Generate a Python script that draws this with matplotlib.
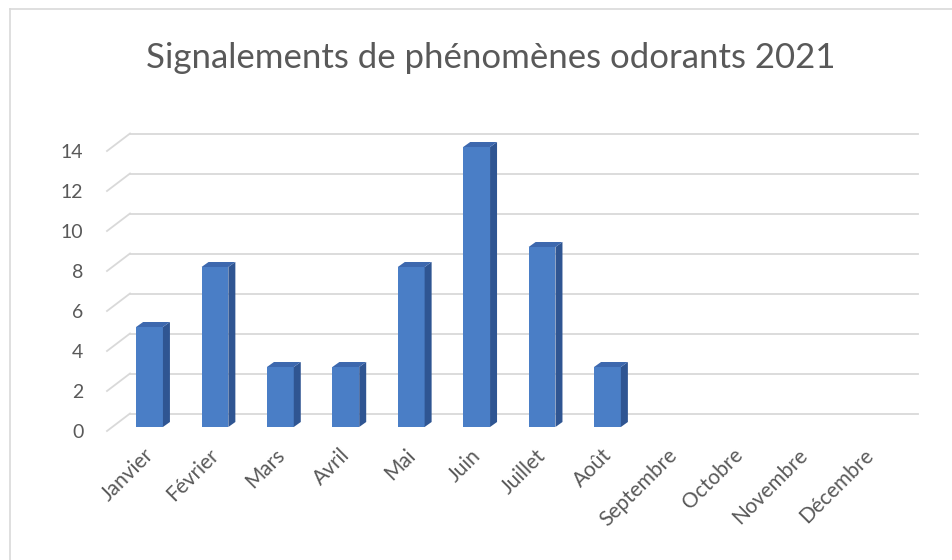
import numpy as np
import matplotlib.pyplot as plt
import matplotlib.transforms as mtransforms
from matplotlib.patches import Polygon
from matplotlib.lines import Line2D

plt.rcParams['font.family'] = ['Lato', 'DejaVu Sans']

# données
mois = ['Janvier', 'Février', 'Mars', 'Avril', 'Mai', 'Juin', 'Juillet',
        'Août', 'Septembre', 'Octobre', 'Novembre', 'Décembre']
signalements = [5, 8, 3, 3, 8, 14, 9, 3, 0, 0, 0, 0]
graduations = [0, 2, 4, 6, 8, 10, 12, 14]
titre = 'Signalements de phénomènes odorants 2021'

gris_texte = '#595959'
gris_grille = '#D9D9D9'
bleu_face = '#4A7EC6'
bleu_cote = '#2F5592'
bleu_haut = '#3D68AE'

W, H = 953, 560
fig = plt.figure(figsize=(W / 100, H / 100), dpi=100)
# axes placed so that x=0 -> 149.5 px, 65.4 px per month, y=0 -> 431 px, 20 px per unit
ax = fig.add_axes([100 / W, (H - 441) / H, 830 / W, 320 / H])
ax.set_xlim(-0.757, 11.93)
ax.set_ylim(-0.5, 15.5)

# pseudo 3D offsets (data units)
mur_dx, mur_dy = 0.352, 0.875
x_avant, x_droite = -0.65, 11.75
for v in graduations:
    ax.plot([x_avant, x_avant + mur_dx], [v, v + mur_dy], color=gris_grille, lw=1.3, zorder=1)
    ax.plot([x_avant + mur_dx, x_droite], [v + mur_dy, v + mur_dy], color=gris_grille, lw=1.3, zorder=1)

x = np.arange(len(mois))
larg = 0.41
base = 0.2
ddx, ddy = 0.107, 0.25
vals = np.array(signalements, dtype=float)
garde = vals > 0
ax.bar(x[garde], vals[garde], width=larg, bottom=base, color=bleu_face, zorder=3)
for xi, v in zip(x[garde], vals[garde]):
    d = xi + larg / 2
    g = xi - larg / 2
    haut = base + v
    ax.add_patch(Polygon([(d, base), (d + ddx, base + ddy), (d + ddx, haut + ddy), (d, haut)],
                         closed=True, facecolor=bleu_cote, edgecolor='none', zorder=3))
    ax.add_patch(Polygon([(g, haut), (d, haut), (d + ddx, haut + ddy), (g + ddx, haut + ddy)],
                         closed=True, facecolor=bleu_haut, edgecolor='none', zorder=3))

ax.set_yticks(graduations)
ax.set_yticklabels([str(g) for g in graduations], fontsize=14, color=gris_texte)
ax.set_xticks(x)
ax.set_xticklabels(mois, rotation=45, ha='right', rotation_mode='anchor',
                   fontsize=15, color=gris_texte)
ax.tick_params(axis='y', length=0, pad=12)
ax.tick_params(axis='x', length=0, pad=3)
decal = mtransforms.ScaledTranslation(-6 / 100, 0, fig.dpi_scale_trans)
for lab in ax.get_xticklabels():
    lab.set_transform(lab.get_transform() + decal)
for s in ax.spines.values():
    s.set_visible(False)

fig.text(491 / W, 1 - 58 / H, titre, ha='center', va='center', fontsize=25, color=gris_texte)

# chart border (top and left visible)
fig.add_artist(Line2D([10 / W, 10 / W], [0, 1 - 9 / H], color=gris_grille, lw=1.2))
fig.add_artist(Line2D([10 / W, 1], [1 - 9 / H, 1 - 9 / H], color=gris_grille, lw=1.2))

fig.savefig('out.png', dpi=100)
